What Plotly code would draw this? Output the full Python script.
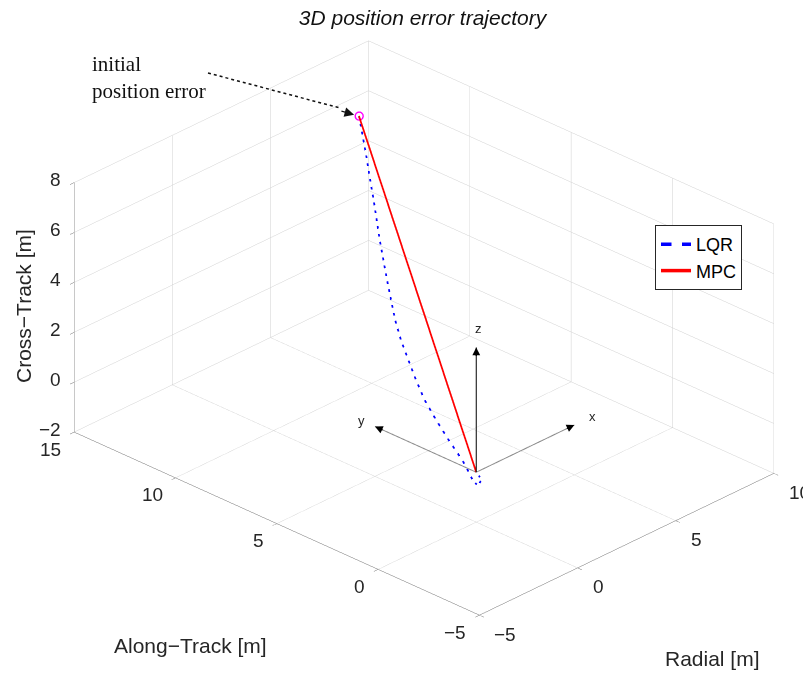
import plotly.graph_objects as go

# ---------------- data ----------------
x_range = [-5, 10]
y_range = [-5, 15]
z_range = [-2, 8]
x_ticks = [-5, 0, 5, 10]
y_ticks = [-5, 0, 5, 10, 15]
z_ticks = [-2, 0, 2, 4, 6, 8]

# LQR trajectory (Radial, Along-Track, Cross-Track) [m]
lqr_x = [6.00, 5.39, 4.92, 4.58, 3.91, 3.23, 2.56, 2.23, 1.89, 1.55, 1.21, 0.88, 0.54, 0.20, 0.05, -0.10, 0.05, 0.15, 0.08, 0.00]
lqr_y = [11.60, 10.68, 10.00, 9.50, 8.55, 7.53, 6.48, 5.88, 5.18, 4.47, 3.72, 2.83, 1.88, 0.88, 0.38, 0.07, -0.03, -0.10, -0.06, 0.00]
lqr_z = [7.75, 6.88, 6.18, 5.69, 4.69, 3.71, 2.75, 2.30, 1.88, 1.46, 1.07, 0.72, 0.39, 0.08, -0.21, -0.32, -0.54, -0.35, -0.15, 0.00]

# MPC trajectory
mpc_x = [6.00, 0.00]
mpc_y = [11.60, 0.00]
mpc_z = [7.75, 0.00]

# initial position error
init_x = [6.00]
init_y = [11.60]
init_z = [7.75]

# reference-frame triad length
triad_len = 5


def fmt(v):
    return ("\u2212" + str(abs(v))) if v < 0 else str(v)


PAGE_OFFSET = 8  # default html body margin


def px(x, y):
    """page pixel position -> paper coordinates"""
    return (x - PAGE_OFFSET) / 811, 1 - (y - PAGE_OFFSET) / 675


# ---------------- figure ----------------
fig = go.Figure()

fig.add_trace(go.Scatter3d(x=[0, triad_len], y=[0, 0], z=[0, 0], mode="lines",
                           line=dict(color="#8c8c8c", width=2), showlegend=False, hoverinfo="skip"))
fig.add_trace(go.Scatter3d(x=[0, 0], y=[0, triad_len], z=[0, 0], mode="lines",
                           line=dict(color="#8c8c8c", width=2), showlegend=False, hoverinfo="skip"))
fig.add_trace(go.Scatter3d(x=[0, 0], y=[0, 0], z=[0, triad_len], mode="lines",
                           line=dict(color="#000000", width=2), showlegend=False, hoverinfo="skip"))

fig.add_trace(go.Scatter3d(x=lqr_x, y=lqr_y, z=lqr_z, mode="lines", name="LQR",
                           line=dict(color="#0000ff", width=3.5, dash="dash")))
fig.add_trace(go.Scatter3d(x=mpc_x, y=mpc_y, z=mpc_z, mode="lines", name="MPC",
                           line=dict(color="#ff0000", width=3.5)))
fig.add_trace(go.Scatter3d(x=init_x, y=init_y, z=init_z, mode="markers", showlegend=False,
                           marker=dict(symbol="circle-open", size=5, color="#ff00ff",
                                       line=dict(color="#ff00ff", width=2))))

axis_common = dict(showbackground=False, gridcolor="#d0d0d0", gridwidth=1,
                   showline=True, linecolor="#6e6e6e", linewidth=1,
                   ticks="outside", tickcolor="#6e6e6e", ticklen=6,
                   showticklabels=False,
                   zeroline=False, showspikes=False,
                   title=dict(text=""))

tick_font = dict(family="Liberation Sans, Arial", size=19, color="#262626")
small_font = dict(family="Liberation Sans, Arial", size=13, color="#262626")

scene_ann = []
for v in x_ticks:
    scene_ann.append(dict(x=v, y=y_range[0], z=z_range[0], text=fmt(v), showarrow=False,
                          xanchor="left", yanchor="middle", xshift=13, yshift=-19, font=tick_font))
for v in y_ticks:
    scene_ann.append(dict(x=x_range[0], y=v, z=z_range[0], text=fmt(v), showarrow=False,
                          xanchor="right", yanchor="middle", xshift=-11, yshift=-17, font=tick_font))
for v in z_ticks:
    scene_ann.append(dict(x=x_range[0], y=y_range[1], z=v, text=fmt(v), showarrow=False,
                          xanchor="right", yanchor="middle", xshift=-11, yshift=3, font=tick_font))

scene_ann += [
    dict(x=triad_len, y=0, z=0, text="", showarrow=True, arrowhead=2, arrowsize=1.3,
         arrowwidth=1.2, arrowcolor="black", ax=-9, ay=4.2),
    dict(x=0, y=triad_len, z=0, text="", showarrow=True, arrowhead=2, arrowsize=1.3,
         arrowwidth=1.2, arrowcolor="black", ax=9, ay=4),
    dict(x=0, y=0, z=triad_len, text="", showarrow=True, arrowhead=2, arrowsize=1.3,
         arrowwidth=1.2, arrowcolor="black", ax=0, ay=10),
    dict(x=triad_len + 0.9, y=0, z=0, text="x", showarrow=False, font=small_font),
    dict(x=0, y=triad_len + 0.65, z=0, text="y", showarrow=False, font=small_font),
    dict(x=0.1, y=0, z=triad_len + 0.72, text="z", showarrow=False, font=small_font),
    dict(x=init_x[0], y=init_y[0], z=init_z[0], text="initial<br>position error",
         align="left", showarrow=False, xanchor="left", yanchor="middle",
         xshift=-269, yshift=38,
         font=dict(family="Liberation Serif, Times New Roman", size=21, color="#111111")),
    dict(x=init_x[0], y=init_y[0], z=init_z[0], text="", showarrow=True,
         arrowhead=2, arrowsize=1.6, arrowwidth=1.2, arrowcolor="#111111",
         ax=-19, ay=-5.2, standoff=5),
]

k = 0.86
eye_r = 2.2
cshift = dict(x=0.0307, y=0.0, z=-0.0393)

lx0, ly0 = px(208, 73)
lx1, ly1 = px(340, 108)

fig.update_layout(
    width=811, height=675,
    paper_bgcolor="white",
    margin=dict(l=0, r=0, t=0, b=0),
    title=dict(text="<i>3D position error trajectory</i>", x=414.5 / 811, xanchor="center",
               y=1 - 10 / 675, yanchor="middle",
               font=dict(family="Liberation Sans, Arial", size=21, color="#111111")),
    scene=dict(
        domain=dict(x=[0.0432, 1.0], y=[0.028, 1.0]),
        xaxis=dict(range=x_range, tickvals=x_ticks, **axis_common),
        yaxis=dict(range=y_range, tickvals=y_ticks, **axis_common),
        zaxis=dict(range=z_range, tickvals=z_ticks, **axis_common),
        aspectmode="manual",
        aspectratio=dict(x=1.5 * k, y=2.0 * k, z=1.0 * k),
        camera=dict(projection=dict(type="orthographic"),
                    up=dict(x=0, y=0, z=1),
                    center=cshift,
                    eye=dict(x=-0.632 * eye_r + cshift["x"], y=-0.612 * eye_r + cshift["y"],
                             z=0.464 * eye_r + cshift["z"])),
        annotations=scene_ann,
    ),
    legend=dict(x=647 / 811, y=1 - 217 / 675, xanchor="left", yanchor="top",
                bgcolor="white", bordercolor="#262626", borderwidth=1,
                font=dict(family="Liberation Sans, Arial", size=18, color="#000000"),
                itemwidth=30, tracegroupgap=0),
    shapes=[dict(type="line", xref="paper", yref="paper", x0=lx0, y0=ly0, x1=lx1, y1=ly1,
                 line=dict(color="#111111", width=1.5, dash="dot"))],
    annotations=[
        dict(text="Cross\u2212Track [m]", x=px(23, 306)[0], y=px(23, 306)[1], textangle=-90,
             xanchor="center", yanchor="middle", showarrow=False,
             font=dict(family="Liberation Sans, Arial", size=21, color="#262626")),
        dict(text="Along\u2212Track [m]", x=px(190, 645)[0], y=px(190, 645)[1],
             xanchor="center", yanchor="middle", showarrow=False,
             font=dict(family="Liberation Sans, Arial", size=21, color="#262626")),
        dict(text="Radial [m]", x=px(712, 658)[0], y=px(712, 658)[1],
             xanchor="center", yanchor="middle", showarrow=False,
             font=dict(family="Liberation Sans, Arial", size=21, color="#262626")),
    ],
)

fig.write_html("out.html")
